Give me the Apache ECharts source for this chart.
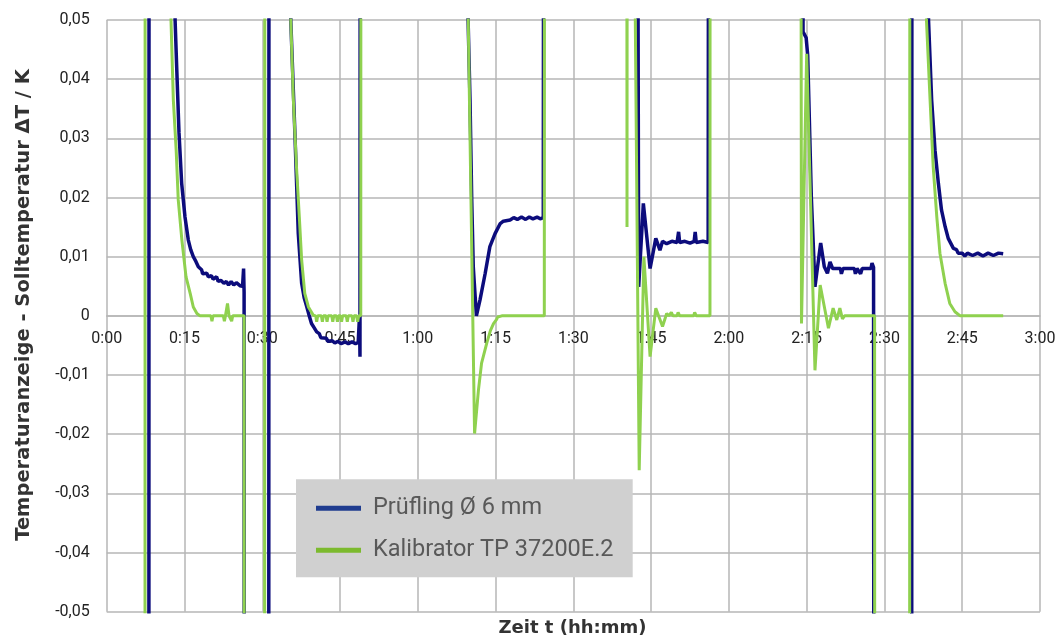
<!DOCTYPE html>
<html>
<head>
<meta charset="utf-8">
<script src="https://cdn.jsdelivr.net/npm/echarts@6/dist/echarts.min.js"></script>
<style>
html,body{margin:0;padding:0;background:#fff;}
#chart{width:1059px;height:639px;}
</style>
</head>
<body>
<div id="chart"></div>
<script>
// Time in minutes since start, deviation in K (off-scale excursions shown as +/-0.3, clipped by the axis)
const xTickLabels = ['0:00','0:15','0:30','0:45','1:00','1:15','1:30','1:45','2:00','2:15','2:30','2:45','3:00'];
const yTickLabels = ['-0,05','-0,04','-0,03','-0,02','-0,01','0','0,01','0,02','0,03','0,04','0,05'];
const seriesNames = ['Prüfling Ø 6 mm', 'Kalibrator TP 37200E.2'];

const pruefling = [
  [6.5,-0.3],[8.1,-0.3],[8.2,0.3],[12.9,0.3],
  [13.19,0.05],[13.5,0.042],[13.94,0.031],[14.46,0.0224],[15.1,0.0167],[15.74,0.0128],[16.2,0.0112],[16.7,0.0100],
  [17.2,0.0092],[17.67,0.0083],[18.3,0.0078],[18.5,0.0071],[19.3,0.0072],[19.6,0.0066],[20.2,0.0068],[20.5,0.0062],
  [21.2,0.0066],[21.5,0.0058],[22.0,0.0060],[22.6,0.0055],[23.1,0.0058],[23.5,0.0052],[24.0,0.0058],[24.5,0.0052],
  [25.0,0.0056],[25.7,0.0051],[26.2,0.0050],[26.4,0.0080],[26.5,0.0040],[26.6,-0.3],
  [31.2,-0.3],[31.35,0.3],[35.3,0.3],
  [35.5,0.05],[36.3,0.0308],[36.95,0.0139],[37.6,0.0055],[38.1,0.003],[38.6,0.0015],[39.0,0.0002],[39.5,-0.0013],
  [40.0,-0.0020],[40.5,-0.0027],[41.0,-0.0030],[41.3,-0.0037],[42.4,-0.0038],[42.6,-0.0043],[43.5,-0.0042],[44.0,-0.0046],
  [44.6,-0.0043],[45.2,-0.0047],[46.0,-0.0044],[46.6,-0.0047],[47.3,-0.0044],[48.0,-0.0047],[48.5,-0.0045],
  [48.75,-0.0002],[48.85,-0.0069],[49.0,0.3],
  [69.5,0.3],[69.7,0.05],[70.07,0.0365],[70.4,0.0196],[70.7,0.0083],[71.3,0.0],[72.0,0.0027],[73.0,0.0072],
  [73.9,0.0117],[74.9,0.0139],[75.9,0.0156],[76.5,0.016],[77.8,0.0162],[78.5,0.0166],[79.2,0.0163],[80.0,0.0167],
  [80.8,0.0163],[81.5,0.0167],[82.2,0.0164],[83.0,0.0167],[83.6,0.0164],[84.2,0.0166],[84.5,0.3],
  [102.1,0.2],[102.6,0.0049],[103.5,0.019],[103.7,0.0188],[104.8,0.008],[105.9,0.0131],[106.7,0.0111],[107.2,0.0126],
  [108.0,0.0122],[109.0,0.0126],[110.0,0.0124],[110.3,0.0142],[110.5,0.0124],[111.5,0.0126],[112.5,0.0123],
  [113.3,0.0126],[113.5,0.0142],[113.7,0.0124],[115.0,0.0126],[116.0,0.0124],[116.3,0.3],
  [134.0,0.3],[134.3,0.048],[134.9,0.047],[135.2,0.044],[135.9,0.02],[136.4,0.0094],[136.6,0.0049],[137.7,0.0123],
  [138.4,0.0083],[139.0,0.0072],[139.5,0.0091],[140.0,0.008],[141.5,0.008],[141.7,0.0071],[142.0,0.008],
  [144.2,0.008],[144.4,0.0071],[144.7,0.008],[145.4,0.0071],[145.7,0.008],[147.4,0.008],[147.6,0.0089],
  [147.9,0.0082],[148.1,-0.3],
  [155.2,-0.3],[155.35,0.3],[158.3,0.3],
  [158.5,0.05],[159.1,0.0365],[159.75,0.028],[160.4,0.0224],[161.0,0.0179],[161.7,0.0151],[162.3,0.0131],
  [163.3,0.0114],[163.9,0.0112],[164.2,0.0106],[165.0,0.0106],[165.5,0.0101],[166.0,0.0106],[167.0,0.0102],
  [168.0,0.0106],[169.0,0.0101],[170.0,0.0106],[171.0,0.0102],[172.0,0.0106],[172.9,0.0105]
];

const kalibrator = [
  [6.5,-0.3],[7.35,-0.3],[7.45,0.3],[12.2,0.3],
  [12.4,0.05],[12.85,0.0365],[13.4,0.028],[13.8,0.0196],[14.5,0.0128],[15.3,0.0066],[16.1,0.0038],[16.7,0.0015],
  [17.4,0.0004],[18.0,0.0],[20.1,0.0],[20.3,-0.0009],[20.5,0.0],[22.5,0.0],[22.7,-0.0009],[22.9,0.0],[23.1,0.0],
  [23.3,0.0021],[23.6,0.0],[23.9,0.0],[24.1,-0.0009],[24.3,0.0],[26.5,0.0],[26.55,-0.3],
  [30.4,-0.3],[30.55,0.3],[35.3,0.3],
  [35.5,0.05],[36.0,0.0365],[36.6,0.0252],[37.15,0.0167],[37.6,0.0094],[38.2,0.0038],[38.9,0.0015],[39.85,0.0001],
  [40.3,0.0],[40.5,-0.001],[40.7,0.0],[41.4,0.0],[41.6,-0.001],[41.8,0.0],[42.3,0.0],[42.5,-0.001],[42.7,0.0],
  [43.4,0.0],[43.6,-0.001],[43.8,0.0],[44.3,0.0],[44.5,-0.001],[44.7,0.0],[45.1,0.0],[45.3,-0.001],[45.5,0.0],
  [46.2,0.0],[46.4,-0.001],[46.6,0.0],[47.3,0.0],[47.5,-0.001],[47.7,0.0],[48.2,0.0],[48.4,-0.001],[48.6,0.0],
  [49.0,0.0],[49.1,0.3],
  [69.4,0.3],[69.55,0.06],[70.95,-0.0199],[71.7,-0.0125],[72.3,-0.008],[73.3,-0.0046],[74.0,-0.0025],[74.6,-0.0013],
  [75.2,-0.0006],[75.4,-0.0002],[76.2,0.0],[84.4,0.0],[84.5,0.3],
  [100.2,0.3],[100.35,0.015],[100.5,0.3],[101.8,0.3],[101.85,0.06],[102.7,-0.0261],[103.6,0.01],[104.8,-0.0069],
  [105.9,0.0013],[107.2,-0.0018],[108.0,0.0004],[108.4,0.0],[108.9,0.0006],[109.2,0.0],[110.0,0.0],[110.2,0.0006],
  [110.5,0.0],[113.2,0.0],[113.4,0.0006],[113.7,0.0],[116.35,0.0],[116.45,0.3],
  [133.6,0.3],[133.75,0.3],[134.0,-0.0013],[135.0,0.0443],[136.6,-0.0092],[137.6,0.0052],[139.2,-0.0021],
  [140.1,0.0013],[140.8,-0.0007],[141.4,0.0013],[141.9,-0.0005],[142.3,0.0],[148.1,0.0],[148.2,-0.3],
  [154.8,-0.3],[154.95,0.3],[157.9,0.3],
  [158.1,0.05],[158.8,0.0365],[159.4,0.0252],[160.1,0.0167],[160.7,0.0106],[161.7,0.0055],[162.6,0.0021],
  [163.6,0.0007],[164.6,0.0],[172.9,0.0]
];

const chart = echarts.init(document.getElementById('chart'), null, {renderer: 'canvas'});
const gridColor = '#b6b6b6';
const gridTop = 20, gridBottom = 27.3, chartH = 639;
const zeroOffset = -((chartH - gridBottom) - gridTop) / 2; // move x axis up to the y=0 line
const option = {
  animation: false,
  backgroundColor: '#ffffff',
  textStyle: {fontFamily: 'Roboto'},
  grid: {left: 106.7, right: 19, top: gridTop, bottom: gridBottom, containLabel: false},
  xAxis: {
    type: 'value', min: 0, max: 180, interval: 15, position: 'bottom', offset: zeroOffset,
    axisLine: {show: true, onZero: false, lineStyle: {color: gridColor, width: 1.5}},
    axisTick: {show: false},
    axisLabel: {
      margin: 15, fontSize: 16, color: '#222', fontFamily: 'Roboto',
      showMinLabel: true, showMaxLabel: true,
      formatter: v => xTickLabels[Math.round(v / 15)]
    },
    splitLine: {show: true, lineStyle: {color: gridColor, width: 1.5}}
  },
  yAxis: {
    type: 'value', min: -0.05, max: 0.05, interval: 0.01,
    axisLine: {show: false},
    axisTick: {show: false},
    axisLabel: {
      margin: 17, fontSize: 16, color: '#222', fontFamily: 'Roboto',
      formatter: v => yTickLabels[Math.round((v + 0.05) / 0.01)]
    },
    splitLine: {show: true, lineStyle: {color: gridColor, width: 1.5}}
  },
  legend: {
    show: true, orient: 'vertical', left: 296, top: 479.3, z: 100,
    padding: [16, 10, 14, 20], itemGap: 16, itemWidth: 45, itemHeight: 5, icon: 'rect',
    textStyle: {fontSize: 23.5, color: '#595959', lineHeight: 26, fontFamily: 'Roboto', padding: [0, 0, 0, 7]},
    data: [
      {name: seriesNames[0], itemStyle: {color: '#1f3c8f'}},
      {name: seriesNames[1], itemStyle: {color: '#7cba2e'}}
    ]
  },
  graphic: [
    {type: 'rect', z: 50, shape: {x: 296, y: 479.3, width: 336.7, height: 98}, style: {fill: '#d0d0d0'}},
    {type: 'text', z: 50, x: 572.5, y: 628, style: {text: 'Zeit t (hh:mm)', font: 'bold 18px "DejaVu Sans"', fill: '#333', align: 'center', verticalAlign: 'middle'}},
    {type: 'text', z: 50, x: 24, y: 305, rotation: Math.PI / 2, style: {text: 'Temperaturanzeige - Solltemperatur ΔT / K', font: 'bold 19.5px "DejaVu Sans"', fill: '#333', align: 'center', verticalAlign: 'middle'}}
  ],
  series: [
    {name: seriesNames[0], type: 'line', data: pruefling, showSymbol: false, symbol: 'none', clip: true,
     lineStyle: {color: '#0c0c7c', width: 3.5}, itemStyle: {color: '#0c0c7c'}, z: 3},
    {name: seriesNames[1], type: 'line', data: kalibrator, showSymbol: false, symbol: 'none', clip: true,
     lineStyle: {color: '#8fd14f', width: 3}, itemStyle: {color: '#8fd14f'}, z: 4}
  ]
};
chart.setOption(option);
</script>
</body>
</html>
